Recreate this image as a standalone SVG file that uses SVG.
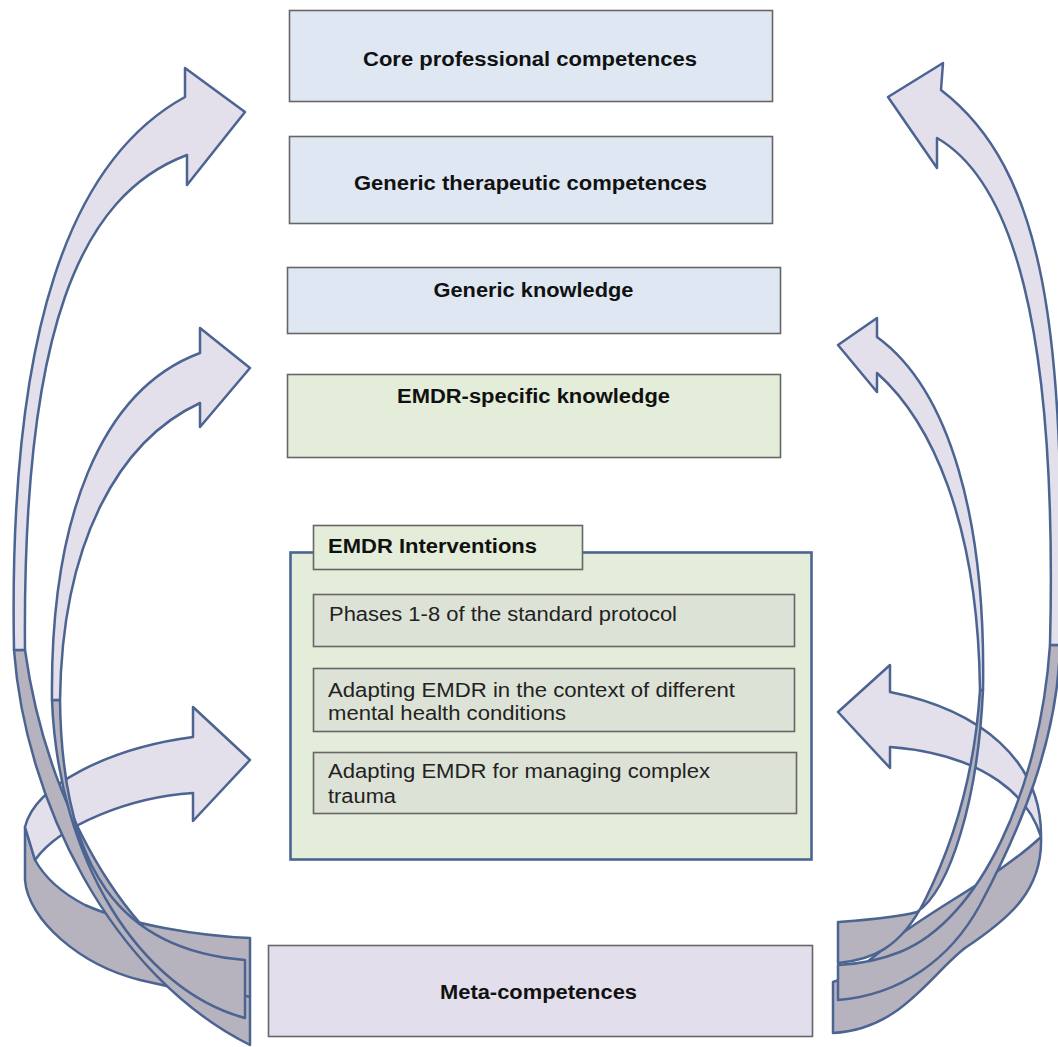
<svg xmlns="http://www.w3.org/2000/svg" width="1058" height="1047" viewBox="0 0 1058 1047">
<style>
.box{stroke:#666;stroke-width:1.6}
.blue{fill:#dfe7f3}
.green{fill:#e4edd9}
.inner{fill:#dde2d6}
.meta{fill:#e3deeb}
.lt{fill:#e3dfeb;stroke:#4b6491;stroke-width:2.5;stroke-linejoin:round}
.dk{fill:#b6b3be;stroke:#4b6491;stroke-width:2.5;stroke-linejoin:round}
.b{font-family:"Liberation Sans",Arial,sans-serif;font-weight:bold;font-size:19.5px;fill:#111}
.r{font-family:"Liberation Sans",Arial,sans-serif;font-size:19.5px;fill:#222}
</style>
<rect width="1058" height="1047" fill="#fff"/>
<g id="connectors">
  <!-- left ring -->
  <path class="dk" d="M35,860 L25,827 L25,880 C28,920 80,965 140,980 C180,990 220,995 250,997 L250,938 C200,936 130,925 85,905 C60,892 45,878 35,860 Z"/>
  <path class="lt" d="M193,737 L193,707 L250,760 L193,821 L193,793 C130,797 60,825 35,860 L25,827 C35,785 110,748 193,737 Z"/>
  <!-- right ring -->
  <path class="dk" d="M1041,837 C1000,875 940,905 900,935 C875,955 855,975 833,982 L833,1033 C900,1030 930,975 965,948 C1010,918 1043,890 1041,837 Z"/>
  <path class="lt" d="M890,692 C980,710 1042,760 1041,837 C1030,800 990,755 890,747 L890,768 L838,712 L890,665 Z"/>
  <!-- left outer L1 -->
  <path class="dk" d="M14,650 C25,800 110,975 250,1045 L250,997 C150,975 50,830 25,650 Z"/>
  <!-- left middle L2 -->
  <path class="dk" d="M52,700 C58,860 140,990 245,1018 L245,960 C120,950 62,870 60,700 Z"/>
  <path class="lt" d="M185,97 L185,68 L245,112 L187,185 L187,155 C80,195 22,330 25,650 L14,650 C8,330 70,160 185,97 Z"/>
  <path class="lt" d="M200,353 L200,328 L250,368 L200,427 L200,403 C120,440 62,540 60,700 L52,700 C50,520 100,390 200,353 Z"/>
  <!-- right outer R1 -->
  <path class="dk" d="M1050,645 C1040,790 980,920 900,952 C880,960 860,964 838,965 L838,1000 C900,995 950,960 980,905 C1020,830 1058,740 1060,645 Z"/>
  <!-- right middle R2 -->
  <path class="dk" d="M983,690 C978,800 950,890 917,912 C895,918 865,920 838,922 L838,963 C870,960 900,950 925,900 C955,840 975,770 980,690 Z"/>
  <path class="lt" d="M941,90 L943,63 L888,97 L937,168 L937,138 C1010,180 1058,320 1050,645 L1060,645 C1066,330 1045,170 941,90 Z"/>
  <path class="lt" d="M877,337 L877,318 L838,345 L877,392 L877,373 C930,420 978,520 980,690 L983,690 C986,520 950,390 877,337 Z"/>
</g>
<g id="core">
  <rect class="box blue" x="289.5" y="10.5" width="483" height="91"/>
  <text class="b" x="530" y="66" text-anchor="middle" textLength="334" lengthAdjust="spacingAndGlyphs">Core professional competences</text>
</g>
<g id="generic-therapeutic">
  <rect class="box blue" x="289.5" y="136.5" width="483" height="87"/>
  <text class="b" x="530.5" y="190" text-anchor="middle" textLength="353" lengthAdjust="spacingAndGlyphs">Generic therapeutic competences</text>
</g>
<g id="generic-knowledge">
  <rect class="box blue" x="287.5" y="267.5" width="493" height="66"/>
  <text class="b" x="533.5" y="297" text-anchor="middle" textLength="200" lengthAdjust="spacingAndGlyphs">Generic knowledge</text>
</g>
<g id="emdr-specific">
  <rect class="box green" x="287.5" y="374.5" width="493" height="83"/>
  <text class="b" x="533.5" y="403" text-anchor="middle" textLength="273" lengthAdjust="spacingAndGlyphs">EMDR-specific knowledge</text>
</g>
<g id="emdr-interventions">
  <rect class="green" x="290.5" y="552.5" width="521" height="307" stroke="#4b6491" stroke-width="2.6"/>
  <rect class="box green" x="313.5" y="525.5" width="269" height="44"/>
  <text class="b" x="328" y="553" textLength="209" lengthAdjust="spacingAndGlyphs">EMDR Interventions</text>
  <g id="phases">
    <rect class="box inner" x="313.5" y="594.5" width="481" height="52"/>
    <text class="r" x="329" y="621" textLength="348" lengthAdjust="spacingAndGlyphs">Phases 1-8 of the standard protocol</text>
  </g>
  <g id="adapting-conditions">
    <rect class="box inner" x="313.5" y="668.5" width="481" height="63"/>
    <text class="r" x="328" y="697" textLength="407" lengthAdjust="spacingAndGlyphs">Adapting EMDR in the context of different</text>
    <text class="r" x="328" y="720" textLength="238" lengthAdjust="spacingAndGlyphs">mental health conditions</text>
  </g>
  <g id="adapting-trauma">
    <rect class="box inner" x="313.5" y="752.5" width="483" height="61"/>
    <text class="r" x="328" y="778" textLength="382" lengthAdjust="spacingAndGlyphs">Adapting EMDR for managing complex</text>
    <text class="r" x="328" y="803" textLength="68" lengthAdjust="spacingAndGlyphs">trauma</text>
  </g>
</g>
<g id="meta">
  <rect class="box meta" x="268.5" y="945.5" width="544" height="91"/>
  <text class="b" x="538.5" y="999" text-anchor="middle" textLength="197" lengthAdjust="spacingAndGlyphs">Meta-competences</text>
</g>
</svg>
